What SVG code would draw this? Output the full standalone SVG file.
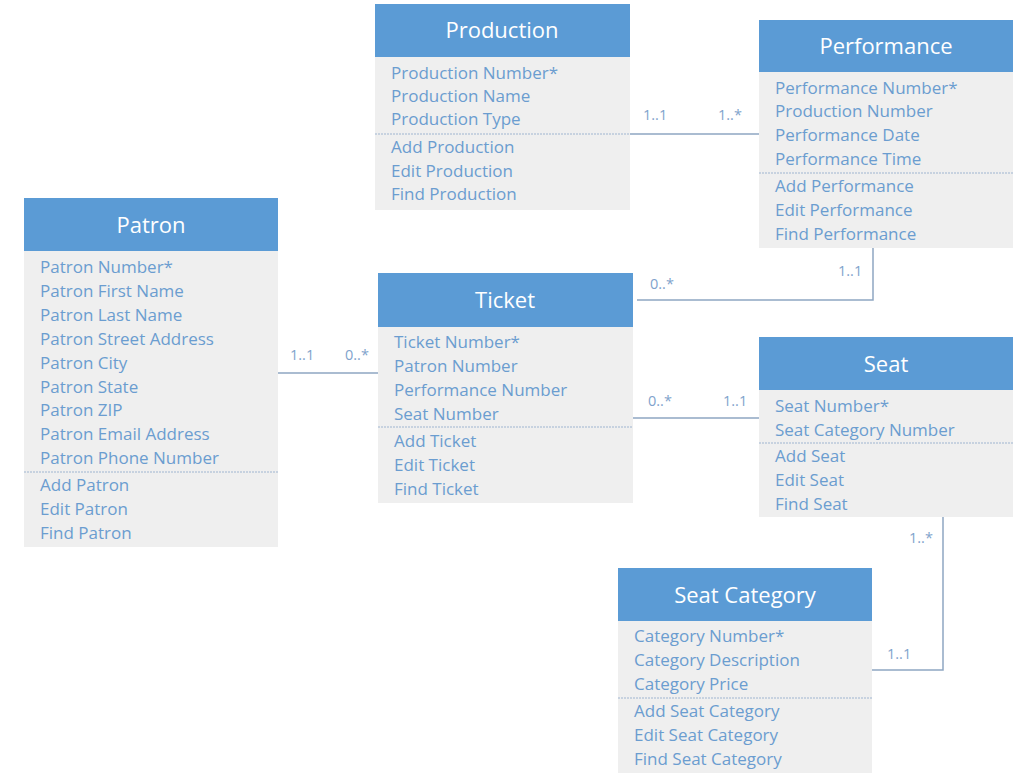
<svg xmlns="http://www.w3.org/2000/svg" width="1035" height="778" viewBox="0 0 1035 778">
<style>
.hd{fill:#5b9bd5}
.bd{fill:#efefef}
.tt{font-family:"Open Sans","Noto Sans",sans-serif;font-size:22px;fill:#ffffff;text-anchor:middle}
.at{font-family:"Open Sans","Noto Sans",sans-serif;font-size:17px;fill:#6b9dd0}
.sep{stroke:#9fb5d0;stroke-width:1;stroke-dasharray:2 1;fill:none}
.cn{stroke:#8ea6c2;stroke-width:1.5;fill:none}
.lb{font-family:"Open Sans","Noto Sans",sans-serif;font-size:14.5px;fill:#7fa3cc}
</style>
<rect width="1035" height="778" fill="#ffffff"/>
<g id="connectors">
<line class="cn" x1="630" y1="134" x2="759" y2="134"/>
<polyline class="cn" points="873,248 873,300 637,300"/>
<line class="cn" x1="278" y1="373" x2="380" y2="373"/>
<line class="cn" x1="633" y1="418" x2="759" y2="418"/>
<polyline class="cn" points="943,517 943,670 872,670"/>
<text class="lb" x="643" y="120">1..1</text>
<text class="lb" x="718" y="120">1..*</text>
<text class="lb" x="838" y="276">1..1</text>
<text class="lb" x="650" y="289">0..*</text>
<text class="lb" x="290" y="360">1..1</text>
<text class="lb" x="345" y="360">0..*</text>
<text class="lb" x="648" y="406">0..*</text>
<text class="lb" x="723" y="406">1..1</text>
<text class="lb" x="909" y="543">1..*</text>
<text class="lb" x="887" y="659">1..1</text>
</g>
<g id="production">
<rect class="bd" x="375" y="57" width="255" height="153"/>
<rect class="hd" x="375" y="4" width="255" height="53"/>
<text class="tt" x="502" y="38">Production</text>
<text class="at" x="391" y="79">Production Number*</text>
<text class="at" x="391" y="102">Production Name</text>
<text class="at" x="391" y="125">Production Type</text>
<line class="sep" x1="375" y1="134" x2="630" y2="134"/>
<text class="at" x="391" y="153">Add Production</text>
<text class="at" x="391" y="177">Edit Production</text>
<text class="at" x="391" y="200">Find Production</text>
</g>
<g id="performance">
<rect class="bd" x="759" y="72" width="254" height="176"/>
<rect class="hd" x="759" y="20" width="254" height="52"/>
<text class="tt" x="886" y="54">Performance</text>
<text class="at" x="775" y="94">Performance Number*</text>
<text class="at" x="775" y="117">Production Number</text>
<text class="at" x="775" y="141">Performance Date</text>
<text class="at" x="775" y="165">Performance Time</text>
<line class="sep" x1="759" y1="173" x2="1013" y2="173"/>
<text class="at" x="775" y="192">Add Performance</text>
<text class="at" x="775" y="216">Edit Performance</text>
<text class="at" x="775" y="240">Find Performance</text>
</g>
<g id="patron">
<rect class="bd" x="24" y="251" width="254" height="296"/>
<rect class="hd" x="24" y="198" width="254" height="53"/>
<text class="tt" x="151" y="233">Patron</text>
<text class="at" x="40" y="273">Patron Number*</text>
<text class="at" x="40" y="297">Patron First Name</text>
<text class="at" x="40" y="321">Patron Last Name</text>
<text class="at" x="40" y="345">Patron Street Address</text>
<text class="at" x="40" y="369">Patron City</text>
<text class="at" x="40" y="393">Patron State</text>
<text class="at" x="40" y="416">Patron ZIP</text>
<text class="at" x="40" y="440">Patron Email Address</text>
<text class="at" x="40" y="464">Patron Phone Number</text>
<line class="sep" x1="24" y1="472" x2="278" y2="472"/>
<text class="at" x="40" y="491">Add Patron</text>
<text class="at" x="40" y="515">Edit Patron</text>
<text class="at" x="40" y="539">Find Patron</text>
</g>
<g id="ticket">
<rect class="bd" x="378" y="327" width="255" height="176"/>
<rect class="hd" x="378" y="273" width="255" height="54"/>
<text class="tt" x="505" y="308">Ticket</text>
<text class="at" x="394" y="348">Ticket Number*</text>
<text class="at" x="394" y="372">Patron Number</text>
<text class="at" x="394" y="396">Performance Number</text>
<text class="at" x="394" y="420">Seat Number</text>
<line class="sep" x1="378" y1="427" x2="633" y2="427"/>
<text class="at" x="394" y="447">Add Ticket</text>
<text class="at" x="394" y="471">Edit Ticket</text>
<text class="at" x="394" y="495">Find Ticket</text>
</g>
<g id="seat">
<rect class="bd" x="759" y="390" width="254" height="127"/>
<rect class="hd" x="759" y="337" width="254" height="53"/>
<text class="tt" x="886" y="372">Seat</text>
<text class="at" x="775" y="412">Seat Number*</text>
<text class="at" x="775" y="436">Seat Category Number</text>
<line class="sep" x1="759" y1="443" x2="1013" y2="443"/>
<text class="at" x="775" y="462">Add Seat</text>
<text class="at" x="775" y="486">Edit Seat</text>
<text class="at" x="775" y="510">Find Seat</text>
</g>
<g id="seat-category">
<rect class="bd" x="618" y="621" width="254" height="152"/>
<rect class="hd" x="618" y="568" width="254" height="53"/>
<text class="tt" x="745" y="603">Seat Category</text>
<text class="at" x="634" y="642">Category Number*</text>
<text class="at" x="634" y="666">Category Description</text>
<text class="at" x="634" y="690">Category Price</text>
<line class="sep" x1="618" y1="698" x2="872" y2="698"/>
<text class="at" x="634" y="717">Add Seat Category</text>
<text class="at" x="634" y="741">Edit Seat Category</text>
<text class="at" x="634" y="765">Find Seat Category</text>
</g>
</svg>
